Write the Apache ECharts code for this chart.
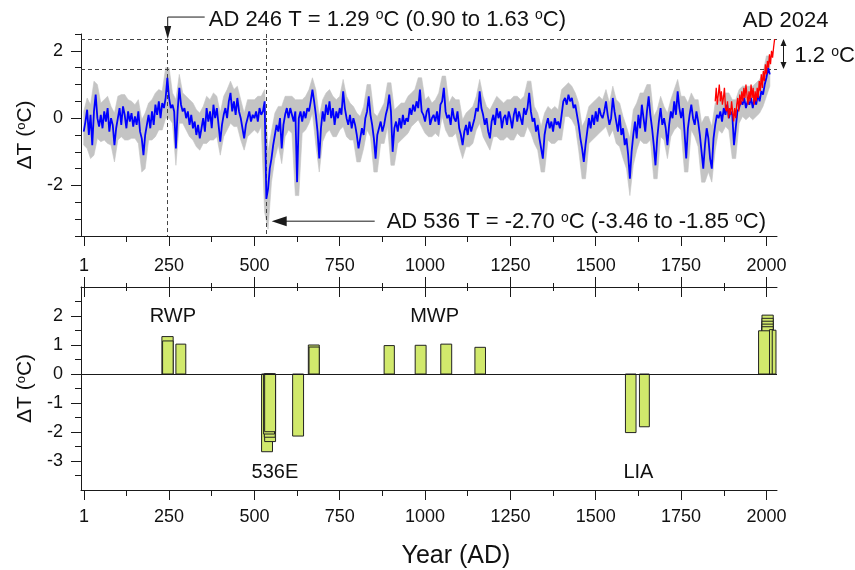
<!DOCTYPE html>
<html><head><meta charset="utf-8">
<script src="https://cdn.jsdelivr.net/npm/echarts@6/dist/echarts.min.js"></script>
<style>html,body{margin:0;padding:0;background:#fff}#c{width:855px;height:570px}</style>
</head><body><div id="c"></div>
<script>
// ---------- DATA ----------
// Reconstruction (blue), 5-year steps starting AD 0
const reconStart = 0, reconStep = 5;
const reconValues = [
-0.4,-0.1,0.25,-0.5,0.1,-0.8,0.2,0.7,0.0,-0.25,
0.1,-0.3,0.2,-0.1,0.3,-0.4,0.0,-0.2,-0.8,-0.3,
0.0,0.3,-0.2,0.35,0.1,-0.3,0.2,-0.1,0.15,-0.25,
0.05,-0.2,0.2,-0.4,-0.6,-1.1,-0.5,-0.2,0.1,-0.3,
0.2,-0.2,0.4,0.1,0.5,0.0,0.45,0.3,0.6,1.2,
0.6,0.3,0.4,0.2,-0.9,0.2,0.9,0.4,0.2,0.3,
0.0,0.2,-0.2,0.1,-0.3,-0.1,-0.5,-0.2,-0.6,-0.3,
0.0,-0.4,0.3,-0.1,0.2,-0.3,0.4,0.0,0.3,-0.2,
-0.7,-0.2,0.1,0.3,0.0,0.5,0.75,0.2,0.5,0.1,
0.6,0.2,0.0,-0.3,-0.6,-0.2,0.0,0.2,-0.1,0.1,
0.0,0.2,-0.1,0.3,0.1,0.2,0.5,-2.4,-2.1,-1.5,
-1.2,-0.8,-0.5,-0.2,-0.4,0.0,-0.9,-0.2,0.1,0.3,
0.0,0.3,0.1,-0.1,0.2,-1.9,0.0,0.2,-0.1,0.2,
0.0,0.3,0.2,0.5,0.85,0.5,0.1,-0.4,-1.2,-0.3,
0.2,-0.1,0.4,0.1,0.5,0.0,0.3,-0.2,0.2,0.0,
0.3,0.1,0.8,0.3,0.0,-0.2,0.1,-0.3,0.0,-0.2,
-0.5,-0.9,-0.6,-0.3,-0.5,0.0,0.2,0.65,0.1,-0.2,
-0.6,-1.2,-0.5,-0.3,-0.1,-0.4,-0.2,0.1,0.3,0.7,
0.2,-1.0,-0.3,-0.1,-0.4,0.0,-0.3,0.1,-0.2,0.0,
-0.1,0.3,0.1,0.4,0.2,0.5,0.3,0.85,0.2,0.1,
-0.1,0.2,0.3,-0.2,0.0,0.1,-0.1,0.2,-0.2,0.4,
0.5,0.9,0.2,0.0,0.1,-0.2,0.3,0.0,-0.1,0.2,
-0.3,-0.5,-0.8,-0.4,-0.2,-0.5,-0.1,-0.4,-0.2,0.0,
0.3,0.2,0.8,0.3,0.1,-0.2,0.0,-0.4,-0.6,-0.1,
0.1,-0.2,0.3,0.0,0.2,-0.3,0.0,0.1,-0.2,0.2,
0.0,-0.3,0.1,0.3,-0.1,0.2,0.0,-0.2,0.3,0.1,
0.3,0.75,0.2,-0.1,0.0,-0.4,-0.2,-0.6,-0.9,-1.2,
-0.5,-0.2,0.0,-0.3,-0.1,-0.4,0.0,-0.2,-0.1,-0.3,
0.1,0.5,0.6,0.4,0.7,0.5,0.6,0.3,0.4,0.1,
-0.2,-0.6,-0.9,-1.3,-0.8,-0.4,0.0,-0.3,0.1,-0.2,
0.2,-0.1,0.3,0.1,0.0,0.2,0.5,0.1,-0.2,0.0,
0.6,0.2,-0.1,-0.4,0.1,-0.5,-0.3,-0.8,-0.6,-1.1,
-1.8,-1.0,-0.5,-0.1,-0.6,0.1,-0.3,0.4,0.0,-0.4,
0.2,0.65,0.1,-0.3,-0.8,-1.4,-0.6,-0.1,0.3,-0.2,
0.0,-0.3,-0.8,-0.2,0.2,0.0,0.5,0.1,0.8,0.3,
0.0,0.3,-0.4,-1.2,-0.3,0.1,0.4,0.0,-0.2,0.2,
-0.1,-0.5,-1.0,-1.5,-0.8,-0.3,-0.6,-1.2,-1.5,-0.6,
-0.2,0.1,0.0,0.2,-0.1,0.3,0.1,0.4,0.0,0.2,
0.1,-0.8,-0.3,0.2,0.3,0.5,0.4,0.6,0.3,0.5,
0.4,0.6,0.3,0.6,0.4,0.7,0.5,0.8,0.7,1.0,
1.2,1.5,1.3
];
// Uncertainty envelope (grey), 10-year steps starting AD 0
const bandStart = 0, bandStep = 10;
const bandLower = [
-0.8,-0.9,-1.2,-1.1,-0.6,-0.7,-0.65,-0.75,-0.8,-1.3,
-0.65,-0.55,-0.65,-0.65,-0.6,-0.6,-0.75,-1.6,-1.5,-0.65,
-0.65,-0.55,-0.35,-0.35,0.0,0.0,-0.15,-1.4,-0.15,-0.15,
-0.35,-0.55,-0.65,-0.85,-0.95,-0.75,-0.75,-0.65,-0.65,-0.55,
-1.1,-0.55,-0.35,-0.15,-0.25,-0.25,-0.65,-0.95,-0.55,-0.45,
-0.35,-0.45,-0.25,-2.8,-3.3,-1.9,-1.2,-0.8,-1.35,-0.55,
-0.35,-0.45,-2.3,-2.3,-0.45,-0.35,-0.15,0.15,-0.8,-1.6,
-0.7,-0.45,-0.35,-0.55,-0.55,-0.35,-0.25,-0.55,-0.65,-0.65,
-1.3,-1.3,-0.9,-0.35,-0.55,-1.6,-1.6,-0.75,-0.75,-0.25,
-1.4,-1.4,-0.75,-0.65,-0.55,-0.45,-0.25,-0.15,-0.05,-0.25,
-0.45,-0.55,-0.55,-0.45,-0.55,0.05,-0.35,-0.55,-0.55,-0.45,
-0.85,-1.2,-0.85,-0.85,-0.75,-0.35,-0.15,-0.55,-0.75,-0.95,
-0.55,-0.55,-0.65,-0.65,-0.55,-0.65,-0.65,-0.45,-0.55,-0.55,
-0.25,-0.45,-0.75,-0.95,-1.6,-1.6,-0.65,-0.75,-0.75,-0.65,
-0.65,0.05,0.05,-0.05,-0.25,-0.95,-1.8,-1.8,-0.75,-0.65,
-0.55,-0.45,-0.35,-0.25,-0.55,-0.35,-0.75,-0.85,-1.2,-1.5,
-2.3,-1.4,-0.95,-0.65,-0.75,-0.75,-0.65,-1.8,-1.8,-0.55,
-0.65,-1.2,-0.55,-0.35,-0.25,-0.35,-1.6,-1.6,-0.35,-0.55,
-0.85,-1.9,-1.9,-1.6,-1.9,-0.95,-0.35,-0.45,-0.25,-0.35,
-1.2,-1.2,-0.15,0.05,-0.05,0.05,-0.05,0.05,0.15,0.35,
0.65,0.95
];
const bandUpper = [
0.2,0.6,0.4,1.1,1.0,0.45,0.55,0.65,0.35,0.15,
0.65,0.7,0.7,0.55,0.5,0.4,0.55,-0.05,0.15,0.45,
0.55,0.75,0.85,0.8,1.5,1.5,0.75,0.55,1.3,0.75,
0.65,0.55,0.45,0.25,0.15,0.35,0.65,0.55,0.75,0.65,
0.15,0.65,0.85,1.1,0.85,0.95,0.55,0.15,0.55,0.55,
0.55,0.65,0.65,0.85,-1.0,-0.4,0.15,0.35,0.35,0.65,
0.65,0.65,0.55,0.55,0.55,0.65,0.85,1.2,0.85,0.05,
0.55,0.75,0.85,0.65,0.55,0.65,1.15,0.65,0.45,0.35,
0.15,0.05,0.35,1.0,1.0,0.15,0.05,0.25,0.45,1.05,
1.05,0.25,0.35,0.45,0.45,0.65,0.75,0.85,1.2,1.2,
0.55,0.65,0.45,0.55,0.75,1.25,1.25,0.45,0.65,0.55,
0.55,-0.05,0.15,0.25,0.35,0.65,1.15,0.65,0.35,0.25,
0.45,0.65,0.55,0.45,0.55,0.55,0.65,0.65,0.55,0.65,
1.1,1.1,0.35,0.15,-0.25,0.15,0.35,0.25,0.35,0.25,
0.85,0.95,1.05,0.95,0.75,0.45,-0.25,-0.05,0.35,0.45,
0.55,0.65,0.55,0.85,0.45,0.95,0.55,0.45,0.05,-0.25,
-0.6,0.25,0.45,0.75,0.75,1.0,1.0,0.05,0.25,0.65,
0.35,0.15,0.55,0.85,1.15,0.65,0.65,0.45,0.75,0.55,
0.55,-0.15,0.05,0.05,-0.25,0.45,0.55,0.65,0.75,0.75,
0.55,0.55,0.85,0.95,0.95,0.95,0.95,1.05,1.15,1.35,
1.85,1.85
];
// Instrumental record (red), 3-year steps starting AD 1850
const instStart = 1850, instStep = 3;
const instValues = [
0.5,0.9,0.4,0.7,1.0,0.5,0.8,0.4,0.6,0.9,
0.3,0.2,0.5,0.0,0.3,0.1,0.5,0.2,-0.1,0.3,
0.0,0.4,0.6,0.2,0.7,0.4,0.8,0.5,0.9,0.6,
1.0,0.7,0.4,0.8,0.5,1.0,0.6,0.9,0.4,0.8,
0.5,0.9,0.6,1.1,0.8,1.3,0.9,1.4,1.1,1.6,
1.3,1.7,1.5,1.9,1.6,2.0,1.8,2.1,2.35
];
// Extreme warm / cold periods (bottom panel)
const barStart = [229,231,270, 521,530,529,527,530, 612, 658,660, 880,971,1046,1146, 1587,1628, 1987,1987,1987,1987,1987,1977,2009,2017];
const barEnd   = [262,262,299, 553,562,561,559,562, 644, 690,690, 910,1003,1078,1177, 1618,1657, 2020,2020,2020,2020,2020,2011,2020,2028];
const barValue = [1.29,1.14,1.03, -2.68,-2.33,-2.18,-2.07,-1.99, -2.14, 1.0,0.93, 0.98,0.99,1.03,0.92, -2.02,-1.82, 2.03,1.92,1.82,1.72,1.63,1.49,1.53,1.51];
// Ticks
const majorYearTicks = [1,250,500,750,1000,1250,1500,1750,2000];
const minorYearTicks = [125,375,625,875,1125,1375,1625,1875];
const topMajorT = [-2,0,2];
const topMinorT = [-3.5,-3,-2.5,-1.5,-1,-0.5,0.5,1,1.5,2.5];
const botMajorT = [-3,-2,-1,0,1,2];
const botMinorT = [-3.5,-2.5,-1.5,-0.5,0.5,1.5,2.5];
const refLevels = [2.35, 1.46];
const eventYears = [246, 536];

// ---------- CHART ----------
const FONT = '"Liberation Sans", Arial, sans-serif';
const INK = '#1a1a1a';
const XMIN = -8, XMAX = 2031;
const chart = echarts.init(document.getElementById('c'), null, {renderer:'canvas', width:855, height:570});
const plain = v => String(v);

function xAx(grid, pos, ticks, len, inside, labels, line, margin) {
  return {type:'value', gridIndex:grid, position:pos, min:XMIN, max:XMAX,
    axisLine:{show:line, onZero:false, lineStyle:{color:INK, width:1}},
    axisTick:{show:true, customValues:ticks, length:len, inside:inside, lineStyle:{color:INK, width:1}},
    axisLabel: labels ? {show:true, customValues:labels, formatter:plain, fontSize:18, color:'#111', fontFamily:FONT, margin:margin} : {show:false},
    splitLine:{show:false}};
}
const yName = {name:'ΔT ({s|o}C)', nameLocation:'middle', nameGap:34,
  nameTextStyle:{fontSize:21, fontFamily:FONT, color:'#111',
    rich:{s:{fontSize:13, fontFamily:FONT, color:'#111', verticalAlign:'top', lineHeight:14}}}};
function yAx(grid, min, max, ticks, len, labels, line, named) {
  return Object.assign({type:'value', gridIndex:grid, position:'left', min:min, max:max,
    axisLine:{show:line, onZero:false, lineStyle:{color:INK, width:1}},
    axisTick:{show:true, customValues:ticks, length:len, lineStyle:{color:INK, width:1}},
    axisLabel: labels ? {show:true, customValues:labels, formatter:plain, fontSize:18, color:'#111', fontFamily:FONT, margin:18} : {show:false},
    splitLine:{show:false}}, named ? yName : {});
}

const reconData = reconValues.map((v,i)=>[reconStart+i*reconStep, v]);
const instData = instValues.map((v,i)=>[instStart+i*instStep, v]);
const barData = barValue.map((v,i)=>[barStart[i], barEnd[i], v]);

const dashed = {color:'#444', width:1, type:[4,3]};

const option = {
  animation:false,
  backgroundColor:'#fff',
  grid:[{left:81, right:78, top:34, height:202},{left:81, right:78, top:287, height:203}],
  xAxis:[
    xAx(0,'bottom',majorYearTicks,10,false,majorYearTicks,true,21),
    xAx(0,'bottom',minorYearTicks,6,false,null,false),
    xAx(1,'bottom',majorYearTicks,10,false,majorYearTicks,true,18),
    xAx(1,'bottom',minorYearTicks,6,false,null,false),
    xAx(1,'top',majorYearTicks,10,false,null,true),
    xAx(1,'top',minorYearTicks,4,false,null,false),
    xAx(1,'top',majorYearTicks,10,true,null,false),
    xAx(1,'top',minorYearTicks,4,true,null,false)
  ],
  yAxis:[
    yAx(0,-3.5,2.5,topMajorT,10,topMajorT,true,true),
    yAx(0,-3.5,2.5,topMinorT,6,null,false,false),
    yAx(1,-4,3,botMajorT,10,botMajorT,true,true),
    yAx(1,-4,3,botMinorT,6,null,false,false)
  ],
  series:[
    {type:'custom', xAxisIndex:0, yAxisIndex:0, data:[[bandStart, bandLower[0]]], encode:{x:0, y:1}, silent:true, z:1,
      renderItem:function(params, api){
        const pts = [];
        for (let i=0;i<bandUpper.length;i++) pts.push(api.coord([bandStart+i*bandStep, bandUpper[i]]));
        for (let i=bandLower.length-1;i>=0;i--) pts.push(api.coord([bandStart+i*bandStep, bandLower[i]]));
        return {type:'polygon', shape:{points:pts}, style:{fill:'#c4c4c4', stroke:'#c4c4c4', lineWidth:0.6}};
      }},
    {type:'line', xAxisIndex:0, yAxisIndex:0, data:reconData, symbol:'none', silent:true,
      lineStyle:{color:'#0000ff', width:1.8}, z:3,
      markLine:{symbol:'none', silent:true, label:{show:false}, lineStyle:dashed, z:2,
        data:[{yAxis:refLevels[0]},{yAxis:refLevels[1]},
          [{coord:[eventYears[0], refLevels[0]]},{coord:[eventYears[0], -3.5]}],
          [{coord:[eventYears[1], 2.5]},{coord:[eventYears[1], -3.5]}]]}},
    {type:'line', xAxisIndex:0, yAxisIndex:0, data:instData, symbol:'none', silent:true,
      lineStyle:{color:'#ff0000', width:1.3}, z:4},
    {type:'custom', xAxisIndex:2, yAxisIndex:2, data:barData, encode:{x:[0,1], y:2}, silent:true, z:3,
      renderItem:function(params, api){
        const p0 = api.coord([api.value(0), api.value(2)]);
        const p1 = api.coord([api.value(1), 0]);
        return {type:'rect', shape:{x:Math.min(p0[0],p1[0]), y:Math.min(p0[1],p1[1]),
          width:Math.abs(p1[0]-p0[0]), height:Math.abs(p1[1]-p0[1])},
          style:{fill:'#d1e96c', stroke:'#222', lineWidth:1}};
      },
      markLine:{symbol:'none', silent:true, label:{show:false}, lineStyle:{color:INK, width:1, type:'solid'},
        data:[{yAxis:0}]}}
  ]
};
chart.setOption(option);

// ---------- ANNOTATIONS ----------
const cp = p => chart.convertToPixel({xAxisIndex:0, yAxisIndex:0}, p);
const cb = p => chart.convertToPixel({xAxisIndex:2, yAxisIndex:2}, p);
const supRich = {s:{fontSize:14, fontFamily:FONT, fill:'#111', verticalAlign:'top', lineHeight:14}};
function txt(x, y, s, size, align) {
  return {type:'text', x:x, y:y, silent:true, style:{text:s, fontSize:size, fontFamily:FONT, fill:'#111',
    align:align||'left', verticalAlign:'middle', rich:supRich}};
}
const g = [];
const a = cp([eventYears[0], refLevels[0]]);
g.push({type:'polyline', silent:true, shape:{points:[[a[0]+37,a[1]-22],[a[0],a[1]-22],[a[0],a[1]-12]]}, style:{stroke:INK, lineWidth:1, fill:null}});
g.push({type:'polygon', silent:true, shape:{points:[[a[0]-3.5,a[1]-13],[a[0]+3.5,a[1]-13],[a[0],a[1]]]}, style:{fill:INK}});
g.push(txt(a[0]+41, a[1]-19.5, 'AD 246 T = 1.29 {s|o}C (0.90 to 1.63 {s|o}C)', 22));
const b = cp([eventYears[1], -3.06]);
const tip = b[0]+5;
g.push({type:'polygon', silent:true, shape:{points:[[tip,b[1]],[tip+15,b[1]-5],[tip+15,b[1]+5]]}, style:{fill:INK}});
g.push({type:'line', silent:true, shape:{x1:tip+14, y1:b[1], x2:tip+103, y2:b[1]}, style:{stroke:INK, lineWidth:1}});
g.push(txt(tip+115, b[1]+0.5, 'AD 536 T = -2.70 {s|o}C (-3.46 to -1.85 {s|o}C)', 22));
const c = cp([2024, refLevels[0]]);
g.push(txt(c[0]+11, 20.5, 'AD 2024', 22, 'center'));
const r0 = cp([XMAX, refLevels[0]]), r1 = cp([XMAX, refLevels[1]]);
const dx = r0[0]+6.5;
g.push({type:'line', silent:true, shape:{x1:dx, y1:r0[1]+6, x2:dx, y2:r1[1]-6}, style:{stroke:INK, lineWidth:1}});
g.push({type:'polygon', silent:true, shape:{points:[[dx,r0[1]],[dx-3,r0[1]+7],[dx+3,r0[1]+7]]}, style:{fill:INK}});
g.push({type:'polygon', silent:true, shape:{points:[[dx,r1[1]],[dx-3,r1[1]-7],[dx+3,r1[1]-7]]}, style:{fill:INK}});
g.push(txt(dx+11, (r0[1]+r1[1])/2+2, '1.2 {s|o}C', 22));
// bottom panel labels
const pR = cb([261, 2.0]), pM = cb([1028, 2.0]), pE = cb([560, -3.38]), pL = cb([1625, -3.38]);
g.push(txt(pR[0], pR[1], 'RWP', 20, 'center'));
g.push(txt(pM[0], pM[1], 'MWP', 20, 'center'));
g.push(txt(pE[0], pE[1], '536E', 20, 'center'));
g.push(txt(pL[0], pL[1], 'LIA', 20, 'center'));
g.push(txt(456, 556, 'Year (AD)', 25, 'center'));
chart.setOption({graphic:g});
</script>
</body></html>
